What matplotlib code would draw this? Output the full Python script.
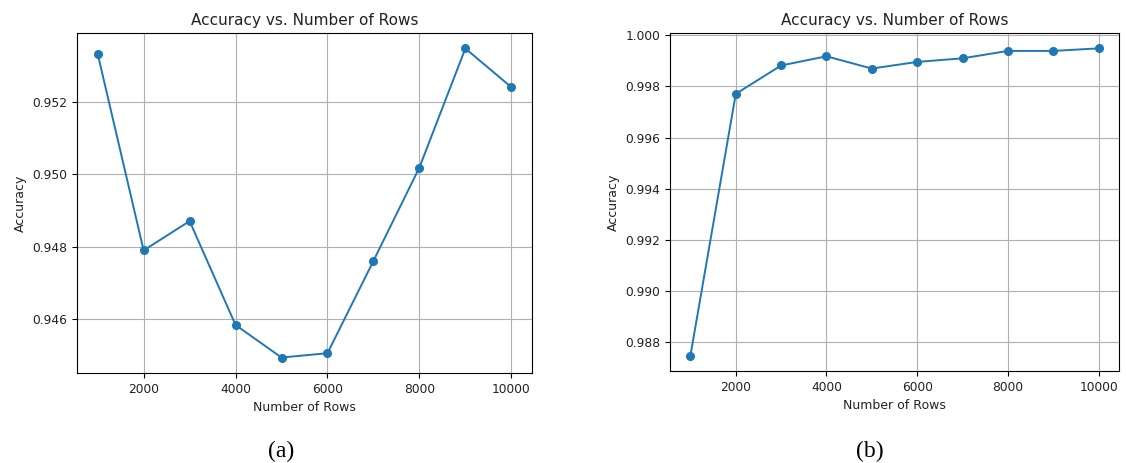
import matplotlib.pyplot as plt

rows = [1000, 2000, 3000, 4000, 5000, 6000, 7000, 8000, 9000, 10000]
acc_a = [0.95333, 0.94790, 0.94871, 0.94584, 0.94494, 0.94506, 0.94761, 0.95019, 0.95348, 0.95241]
acc_b = [0.98747, 0.99771, 0.99882, 0.99918, 0.99870, 0.99896, 0.99910, 0.99939, 0.99939, 0.99949]
captions = ["(a)", "(b)"]
caption_x = [281, 870]

fig = plt.figure(figsize=(11.26, 4.63), dpi=100)
ax1 = fig.add_axes([77 / 1126, 1 - 373 / 463, 455 / 1126, 340 / 463])
ax2 = fig.add_axes([670 / 1126, 1 - 371 / 463, 449 / 1126, 338 / 463])

for ax, acc, cap, cx in zip([ax1, ax2], [acc_a, acc_b], captions, caption_x):
    ax.plot(rows, acc, marker='o', color='#1f77b4', lw=1.4, markersize=5.5)
    ax.set_title("Accuracy vs. Number of Rows", fontsize=11, color='#222222')
    ax.set_xlabel("Number of Rows", fontsize=9, color='#222222')
    ax.set_ylabel("Accuracy", fontsize=9, color='#222222')
    ax.tick_params(labelsize=8.8, labelcolor='#222222')
    ax.grid(True, color='#b0b0b0', lw=0.8)
    ax.set_xticks([2000, 4000, 6000, 8000, 10000])
    ax.yaxis.set_major_formatter(plt.FormatStrFormatter('%.3f'))
    # sub-figure caption below each panel
    fig.text(cx / 1126, 1 - 451 / 463, cap, ha='center', va='center',
             fontsize=17, family='Liberation Serif')

ax1.set_yticks([0.946, 0.948, 0.950, 0.952])
ax2.set_yticks([0.988, 0.990, 0.992, 0.994, 0.996, 0.998, 1.000])

fig.savefig("out.png", dpi=100)
